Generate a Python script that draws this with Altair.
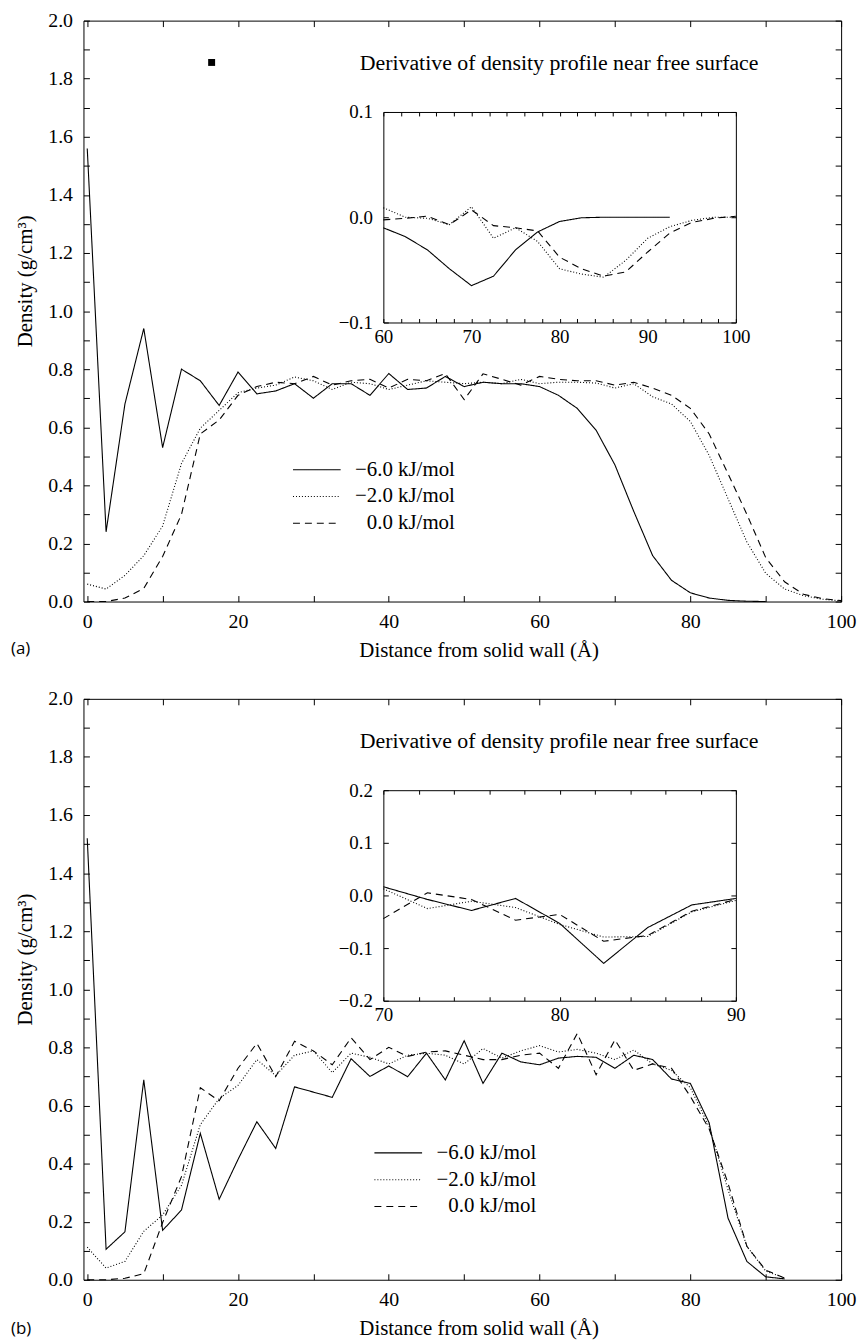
import altair as alt
import pandas as pd

FONT = "Liberation Serif"
SERIES = ["\u22126.0 kJ/mol", "\u22122.0 kJ/mol", "0.0 kJ/mol"]
DASHES = [[1, 0], [1, 2], [7, 5]]
INSET_TITLE = "Derivative of density profile near free surface"

# ---------------- panel (a) : density profiles ----------------
A_X_SOLID = [2.5 * i for i in range(37)]          # 0 .. 90
A_X_OTHER = [2.5 * i for i in range(41)]          # 0 .. 100
A_SOLID = [1.56, 0.24, 0.68, 0.94, 0.53, 0.80, 0.76, 0.675, 0.79, 0.715,
           0.725, 0.75, 0.70, 0.75, 0.75, 0.71, 0.785, 0.73, 0.735, 0.775,
           0.74, 0.755, 0.75, 0.75, 0.74, 0.71, 0.665, 0.59, 0.47, 0.31,
           0.158, 0.073, 0.03, 0.012, 0.004, 0.001, 0.0]
A_DOTTED = [0.06, 0.043, 0.09, 0.158, 0.26, 0.475, 0.597, 0.658, 0.719, 0.735,
            0.745, 0.773, 0.76, 0.73, 0.755, 0.75, 0.73, 0.745, 0.76, 0.755,
            0.75, 0.755, 0.75, 0.765, 0.75, 0.755, 0.755, 0.752, 0.735, 0.75,
            0.705, 0.68, 0.62, 0.503, 0.354, 0.205, 0.097, 0.043, 0.02, 0.008, 0.002]
A_DASHED = [0.0, 0.0, 0.012, 0.045, 0.155, 0.30, 0.577, 0.625, 0.71, 0.74,
            0.755, 0.75, 0.775, 0.745, 0.76, 0.765, 0.735, 0.765, 0.76, 0.785,
            0.695, 0.784, 0.765, 0.745, 0.775, 0.765, 0.76, 0.76, 0.745, 0.755,
            0.735, 0.71, 0.665, 0.577, 0.44, 0.30, 0.151, 0.068, 0.025, 0.01, 0.003]

# panel (a) inset : derivative
AI_X_SOLID = [60 + 2.5 * i for i in range(14)]    # 60 .. 92.5
AI_X_OTHER = [60 + 2.5 * i for i in range(17)]    # 60 .. 100
AI_SOLID = [-0.010, -0.0185, -0.031, -0.049, -0.065, -0.056, -0.031, -0.014,
            -0.004, -0.0005, 0.0, 0.0, 0.0, 0.0]
AI_DOTTED = [0.009, 0.0, -0.001, -0.007, 0.010, -0.020, -0.010, -0.023, -0.049,
             -0.054, -0.057, -0.041, -0.020, -0.009, -0.003, 0.0, 0.0]
AI_DASHED = [-0.0025, -0.001, 0.001, -0.007, 0.007, -0.008, -0.010, -0.013, -0.038,
             -0.049, -0.056, -0.052, -0.033, -0.015, -0.005, -0.001, 0.001]

# ---------------- panel (b) ----------------
B_X = [2.5 * i for i in range(38)]                # 0 .. 92.5
B_SOLID = [1.52, 0.105, 0.165, 0.688, 0.17, 0.24, 0.504, 0.277, 0.414, 0.544,
           0.452, 0.664, 0.646, 0.628, 0.761, 0.70, 0.736, 0.699, 0.78, 0.688,
           0.823, 0.676, 0.78, 0.75, 0.74, 0.763, 0.769, 0.766, 0.728, 0.773,
           0.758, 0.691, 0.676, 0.54, 0.212, 0.063, 0.01, 0.003]
B_DOTTED = [0.112, 0.04, 0.063, 0.167, 0.223, 0.325, 0.534, 0.624, 0.669, 0.758,
            0.703, 0.773, 0.788, 0.713, 0.78, 0.766, 0.743, 0.773, 0.78, 0.773,
            0.743, 0.796, 0.763, 0.788, 0.806, 0.784, 0.793, 0.78, 0.758, 0.791,
            0.743, 0.721, 0.661, 0.527, 0.31, 0.115, 0.03, 0.006]
B_DASHED = [0.0, 0.0, 0.005, 0.021, 0.197, 0.355, 0.661, 0.616, 0.728, 0.814,
            0.699, 0.821, 0.788, 0.74, 0.833, 0.758, 0.80, 0.769, 0.784, 0.788,
            0.773, 0.758, 0.758, 0.773, 0.78, 0.728, 0.848, 0.706, 0.826, 0.721,
            0.743, 0.728, 0.631, 0.519, 0.332, 0.115, 0.033, 0.006]

BI_X = [70 + 2.5 * i for i in range(9)]           # 70 .. 90
BI_SOLID = [0.0165, -0.0076, -0.0285, -0.0057, -0.053, -0.129, -0.061, -0.018, -0.0057]
BI_DOTTED = [0.0127, -0.025, -0.011, -0.023, -0.055, -0.079, -0.078, -0.031, -0.0095]
BI_DASHED = [-0.044, 0.005, -0.0076, -0.047, -0.036, -0.087, -0.076, -0.030, -0.0076]

SQUARE_X = [16.5]
SQUARE_Y = [1.856]

MAIN_X_LABELS = [0, 20, 40, 60, 80, 100]
MAIN_X_TICKS = [10 * i for i in range(11)]
MAIN_Y_LABELS = [round(0.2 * i, 1) for i in range(11)]
MAIN_Y_TICKS = [round(0.1 * i, 1) for i in range(21)]

# ---------------- layout constants ----------------
W, H = 763, 585
IN_X_RANGE = [302, 657]
IN_Y_RANGE = [304, 92]


def long_df(xs_list, ys_list):
    rows = []
    for s, xs, ys in zip(SERIES, xs_list, ys_list):
        for x, y in zip(xs, ys):
            rows.append({"x": x, "y": y, "s": s})
    return pd.DataFrame(rows)


def ax(**kw):
    base = dict(labelFont=FONT, labelFontSize=20, labelColor="black",
                titleFont=FONT, titleFontSize=21, titleColor="black",
                titleFontWeight="normal", tickColor="black", domainColor="black",
                grid=False, tickWidth=1, domainWidth=1, labelFlush=False)
    base.update(kw)
    return alt.Axis(**base)


def tick_axis(orient, offset, values, size):
    return ax(orient=orient, offset=offset, values=values, labels=False,
              domain=False, ticks=True, tickSize=size, title=None)


def panel(main_df, in_df, in_xdom, in_ydom, in_xlabels, in_xticks, in_yvals,
          legend_x, legend_y, tag, tag_dy, square):
    dash = alt.Scale(domain=SERIES, range=DASHES)
    mx = alt.Scale(domain=[-0.5, 100], nice=False, zero=False)
    my = alt.Scale(domain=[0, 2], nice=False, zero=False)
    ix = alt.Scale(domain=in_xdom, range=IN_X_RANGE, nice=False, zero=False)
    iy = alt.Scale(domain=in_ydom, range=IN_Y_RANGE, nice=False, zero=False)

    legend = alt.Legend(orient="none", legendX=legend_x, legendY=legend_y, title=None,
                        symbolType="stroke", symbolSize=2304, symbolStrokeWidth=1.1,
                        symbolStrokeColor="black", labelFont=FONT, labelFontSize=21,
                        labelColor="black", labelAlign="right", labelOffset=114,
                        clipHeight=26.5, rowPadding=0, padding=0)

    main = alt.Chart(main_df).mark_line(color="black", strokeWidth=1.1).encode(
        x=alt.X("x:Q", scale=mx, axis=ax(
            orient="bottom", values=MAIN_X_LABELS, ticks=False, domain=False,
            labelPadding=10, title="Distance from solid wall (\u00c5)",
            titleX=398, titleY=49, titleBaseline="middle")),
        y=alt.Y("y:Q", scale=my, axis=ax(
            orient="left", values=MAIN_Y_LABELS, format=".1f", ticks=False,
            domain=False, labelPadding=11, title="Density (g/cm\u00b3)",
            titleX=-58, titleY=262, titleAngle=270, titleBaseline="middle")),
        strokeDash=alt.StrokeDash("s:N", scale=dash, legend=legend),
        detail="s:N",
    )
    main_t1 = alt.Chart(main_df).mark_line(opacity=0).encode(
        x=alt.X("x:Q", scale=mx, axis=tick_axis("top", -H, MAIN_X_TICKS, 6)),
        y=alt.Y("y:Q", scale=my, axis=tick_axis("right", -W, MAIN_Y_TICKS, 6)),
        detail="s:N",
    )
    main_t2 = alt.Chart(main_df).mark_line(opacity=0).encode(
        x=alt.X("x:Q", scale=mx, axis=tick_axis("bottom", -H, MAIN_X_TICKS, 6)),
        y=alt.Y("y:Q", scale=my, axis=tick_axis("left", -W, MAIN_Y_TICKS, 6)),
        detail="s:N",
    )

    inset = alt.Chart(in_df).mark_line(color="black", strokeWidth=1.1).encode(
        x=alt.X("x:Q", scale=ix, axis=ax(
            orient="bottom", offset=-(H - IN_Y_RANGE[0]), values=in_xlabels,
            ticks=False, domain=True, labelPadding=5, labelFontSize=19, title=None)),
        y=alt.Y("y:Q", scale=iy, axis=ax(
            orient="left", offset=-IN_X_RANGE[0], values=in_yvals, format=".1f",
            ticks=False, domain=True, labelPadding=11, labelFontSize=19, title=None)),
        strokeDash=alt.StrokeDash("s:N", scale=dash, legend=None),
        detail="s:N",
    )
    inset_t1 = alt.Chart(in_df).mark_line(opacity=0).encode(
        x=alt.X("x:Q", scale=ix, axis=tick_axis("top", -IN_Y_RANGE[0], in_xticks, 4)),
        y=alt.Y("y:Q", scale=iy, axis=tick_axis("right", -(W - IN_X_RANGE[0]), in_yvals, 5)),
        detail="s:N",
    )
    inset_t2 = alt.Chart(in_df).mark_line(opacity=0).encode(
        x=alt.X("x:Q", scale=ix, axis=ax(
            orient="bottom", offset=-(H - IN_Y_RANGE[1]), values=in_xticks, labels=False,
            domain=True, ticks=True, tickSize=4, title=None)),
        y=alt.Y("y:Q", scale=iy, axis=ax(
            orient="left", offset=-IN_X_RANGE[1], values=in_yvals, labels=False,
            domain=True, ticks=True, tickSize=5, title=None)),
        detail="s:N",
    )

    title = alt.Chart(alt.Data(values=[{"t": INSET_TITLE}])).mark_text(
        font=FONT, fontSize=22, color="black", align="center", baseline="middle"
    ).encode(x=alt.value(479), y=alt.value(43), text="t:N")
    tag_mark = alt.Chart(alt.Data(values=[{"t": tag}])).mark_text(
        font="Open Sans", fontSize=17, color="black", align="left", baseline="middle"
    ).encode(x=alt.value(-73), y=alt.value(H + tag_dy), text="t:N")

    layers = [main, main_t1, main_t2, inset, inset_t1, inset_t2, title, tag_mark]
    if square:
        sq = alt.Chart(pd.DataFrame({"x": SQUARE_X, "y": SQUARE_Y})).mark_square(
            size=49, color="black", filled=True, opacity=1
        ).encode(x=alt.X("x:Q", scale=mx, axis=None), y=alt.Y("y:Q", scale=my, axis=None))
        layers.append(sq)

    return alt.layer(*layers).resolve_scale(x="independent", y="independent").properties(
        width=W, height=H)


df_a = long_df([A_X_SOLID, A_X_OTHER, A_X_OTHER], [A_SOLID, A_DOTTED, A_DASHED])
df_ai = long_df([AI_X_SOLID, AI_X_OTHER, AI_X_OTHER], [AI_SOLID, AI_DOTTED, AI_DASHED])
df_b = long_df([B_X, B_X, B_X], [B_SOLID, B_DOTTED, B_DASHED])
df_bi = long_df([BI_X, BI_X, BI_X], [BI_SOLID, BI_DOTTED, BI_DASHED])

pa = panel(df_a, df_ai, [60, 100], [-0.1, 0.1], [60, 70, 80, 90, 100],
           [60 + 2 * i for i in range(21)], [-0.1, 0.0, 0.1], 210, 439, "(a)", 48, True)
pb = panel(df_b, df_bi, [70, 90], [-0.2, 0.2], [70, 80, 90],
           [70 + 2 * i for i in range(11)], [-0.2, -0.1, 0.0, 0.1, 0.2], 292, 444, "(b)", 50, False)

chart = alt.vconcat(pa, pb, spacing=27).resolve_legend(strokeDash="independent").configure(
    font=FONT
).configure_view(
    stroke="black", strokeWidth=1
).configure_axis(labelFont=FONT, titleFont=FONT).configure_legend(
    labelFont=FONT, titleFont=FONT
).properties(padding={"left": 2, "top": -3, "right": 2, "bottom": 0})

chart.save("out.html", embed_options={"renderer": "svg", "actions": False})
